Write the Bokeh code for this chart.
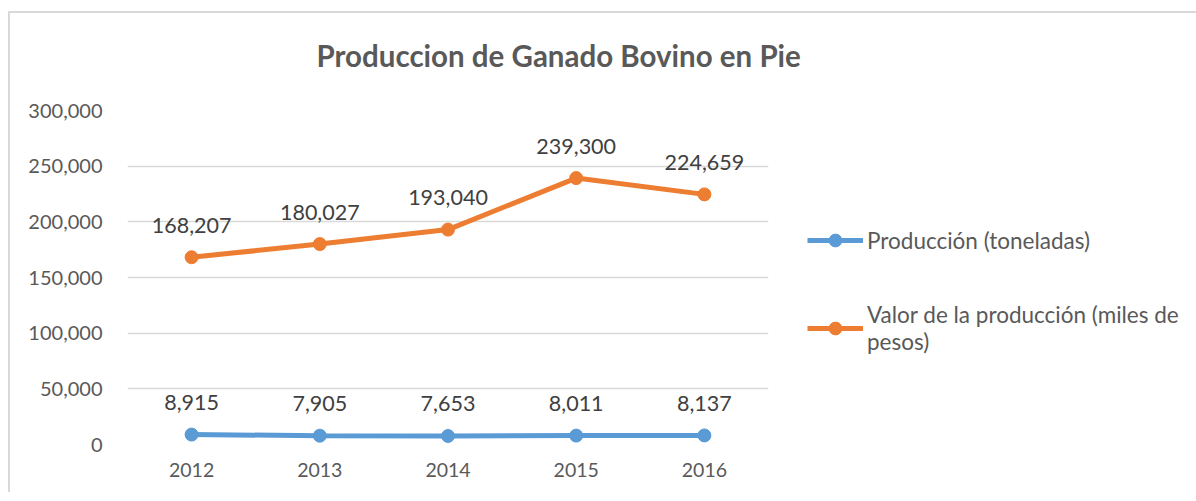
from bokeh.plotting import figure
from bokeh.models import (FactorRange, Range1d, FixedTicker, NumeralTickFormatter,
                          ColumnDataSource, Legend, LegendItem, Title)
from bokeh.core.properties import value
from bokeh.embed import file_html
from bokeh.resources import INLINE

years = ["2012", "2013", "2014", "2015", "2016"]
produccion = [8915, 7905, 7653, 8011, 8137]
valor = [168207, 180027, 193040, 239300, 224659]
y_ticks = [0, 50000, 100000, 150000, 200000, 250000, 300000]
title_text = "Produccion de Ganado Bovino  en Pie"
name_prod = "Producción (toneladas)"
name_valor = "Valor de la producción (miles de\npesos)"

FONT = "Lato"

p = figure(frame_width=641, frame_height=334, x_range=FactorRange(factors=years),
           y_range=Range1d(0, 300000), output_backend="svg", toolbar_location=None,
           min_border_left=117, min_border_right=417, min_border_top=97,
           min_border_bottom=48)
p.styles = {"border-left": "2px solid #d9d9d9", "border-top": "2px solid #d9d9d9",
            "margin-left": "8px", "margin-top": "11px"}
p.outline_line_color = None
p.xgrid.grid_line_color = None
p.ygrid.grid_line_color = "#d9d9d9"
p.ygrid.grid_line_width = 1.5

# spacer between the frame and the title (keeps the title higher up)
p.add_layout(Title(text=" ", text_font_size="1px", standoff=30), "above")
p.add_layout(Title(text=title_text, align="left", offset=189, standoff=10,
                   text_font=FONT, text_font_size="29.5px", text_font_style="bold",
                   text_color="#595959"), "above")

for ax in (p.xaxis[0], p.yaxis[0]):
    ax.axis_line_color = None
    ax.major_tick_line_color = None
    ax.minor_tick_line_color = None
    ax.major_label_text_font = FONT
    ax.major_label_text_color = "#595959"
p.xaxis.major_label_text_font_size = "19.5px"
p.yaxis.major_label_text_font_size = "20px"
p.yaxis.ticker = FixedTicker(ticks=y_ticks)
p.yaxis.formatter = NumeralTickFormatter(format="0,0")
p.yaxis.major_label_standoff = 19
p.xaxis.major_label_standoff = 12

src_p = ColumnDataSource(dict(x=years, y=produccion, t=[f"{v:,}" for v in produccion]))
src_v = ColumnDataSource(dict(x=years, y=valor, t=[f"{v:,}" for v in valor]))

BLUE, ORANGE = "#5b9bd5", "#ed7d31"
lp = p.line("x", "y", source=src_p, line_color=BLUE, line_width=5)
sp = p.scatter("x", "y", source=src_p, size=13, fill_color=BLUE, line_color=BLUE)
lv = p.line("x", "y", source=src_v, line_color=ORANGE, line_width=5)
sv = p.scatter("x", "y", source=src_v, size=13, fill_color=ORANGE, line_color=ORANGE)

for src in (src_p, src_v):
    p.text("x", "y", text="t", source=src, text_font=value(FONT), text_font_size="21.5px",
           text_color="#404040", text_align="center", text_baseline="middle", y_offset=-32)

legend = Legend(items=[LegendItem(label=name_prod, renderers=[lp, sp]),
                       LegendItem(label=name_valor, renderers=[lv, sv])],
                location=(39, 89), padding=0, margin=0, spacing=45,
                glyph_width=56, glyph_height=32, label_standoff=4,
                label_text_font=FONT, label_text_font_size="22.5px",
                label_text_color="#595959", label_text_line_height=1.6,
                border_line_color=None, background_fill_alpha=0)
p.add_layout(legend, "right")

open("out.html", "w").write(file_html(p, INLINE))
